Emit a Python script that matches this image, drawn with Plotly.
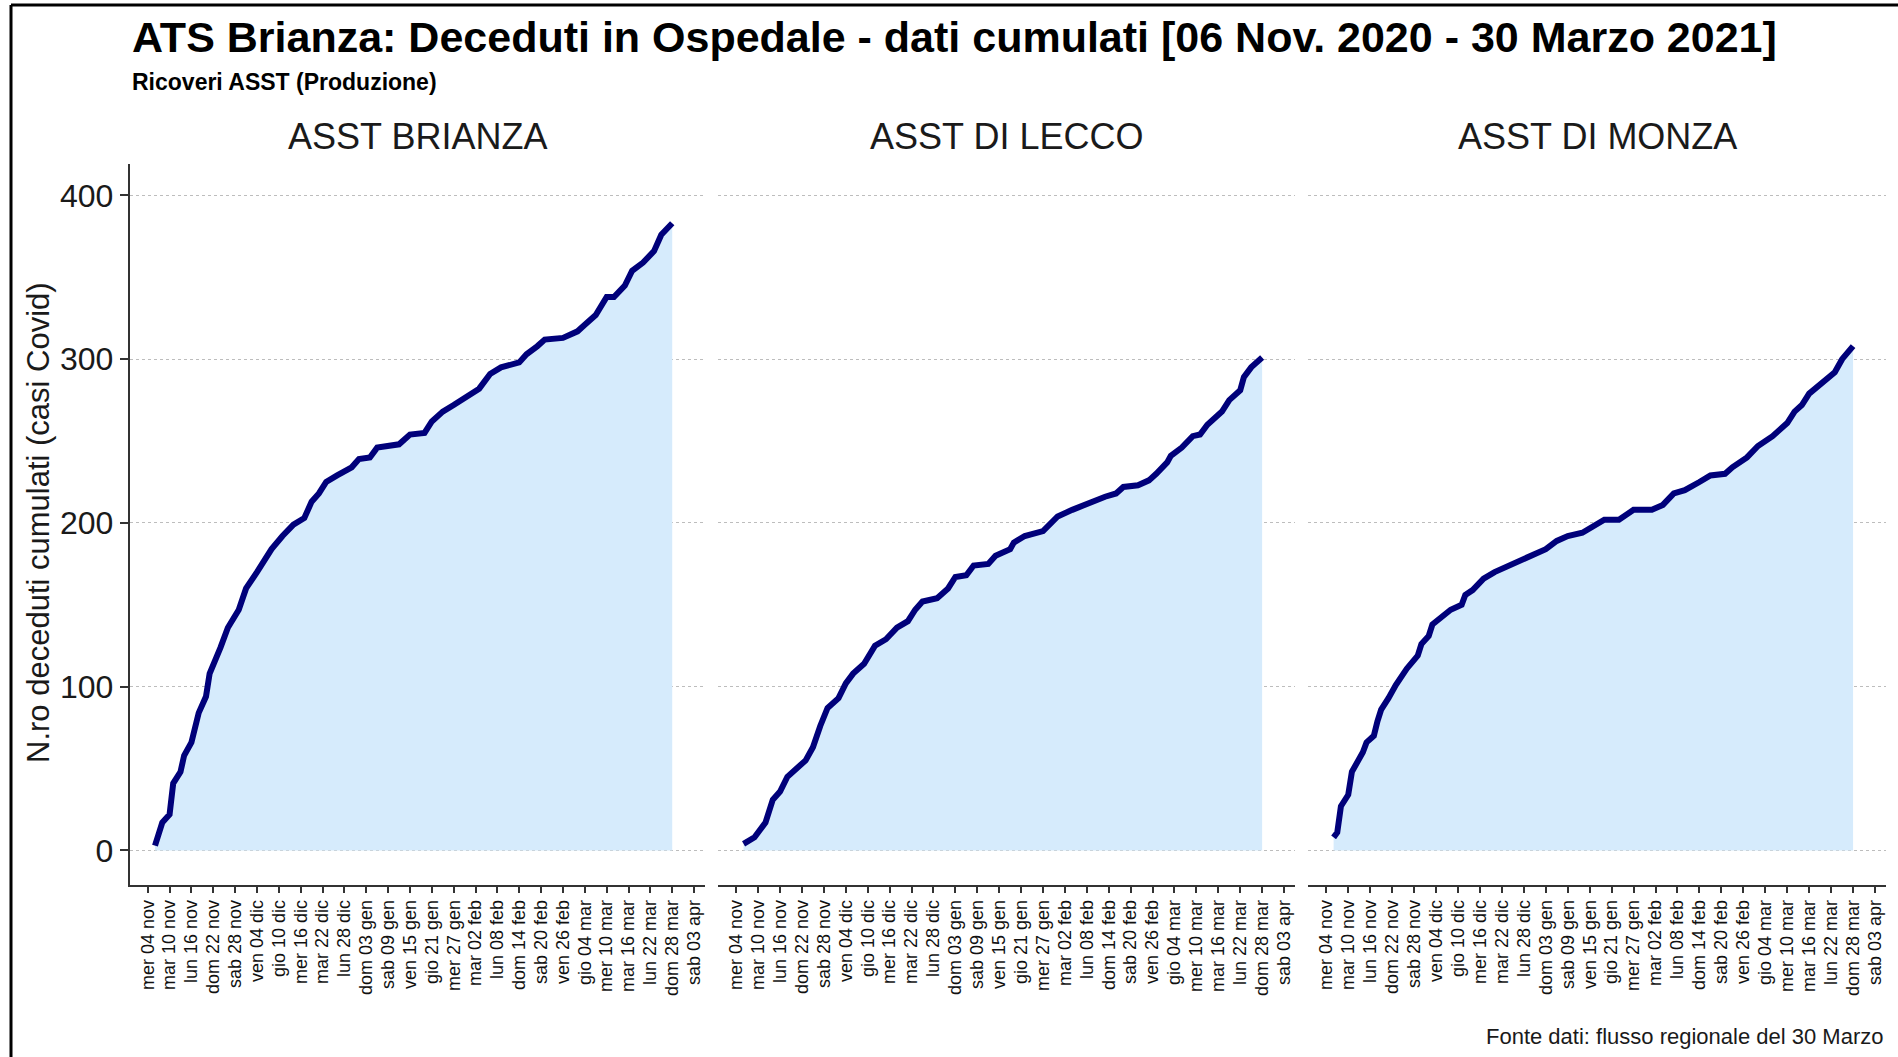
import pandas as pd
import plotly.graph_objects as go

# data: day offsets from 06 Nov 2020 and cumulative deaths
START = pd.Timestamp("2020-11-06")

PANELS = ["ASST BRIANZA", "ASST DI LECCO", "ASST DI MONZA"]

DAYS_BRIANZA = [0, 2, 4, 5, 7, 8, 10, 12, 14, 15, 18, 20, 23, 25, 28, 32, 35, 38, 41, 43,
                45, 47, 50, 54, 56, 59, 61, 67, 70, 74, 76, 79, 82, 86, 89, 92, 95, 100,
                102, 105, 107, 112, 116, 118, 121, 124, 126, 129, 131, 134, 137, 139, 142]
VAL_BRIANZA = [3, 17, 22, 41, 48, 58, 66, 84, 94, 108, 124, 136, 147, 160, 170, 184, 192,
               199, 203, 213, 218, 225, 229, 234, 239, 240, 246, 248, 254, 255, 262, 268,
               272, 278, 282, 291, 295, 298, 303, 308, 312, 313, 317, 321, 327, 338, 338,
               345, 354, 359, 366, 376, 383]

DAYS_LECCO = [0, 3, 6, 7, 8, 10, 12, 17, 19, 21, 23, 26, 28, 30, 33, 36, 39, 42, 45, 47,
              49, 53, 56, 58, 61, 63, 67, 69, 73, 74, 77, 82, 84, 86, 90, 93, 95, 99, 102,
              104, 108, 111, 113, 116, 117, 120, 123, 125, 127, 131, 133, 136, 137, 139, 142]
VAL_LECCO = [4, 8, 17, 24, 31, 36, 45, 55, 63, 76, 87, 93, 102, 108, 114, 125, 129, 136,
             140, 147, 152, 154, 160, 167, 168, 174, 175, 180, 184, 188, 192, 195, 199, 204,
             208, 211, 213, 216, 218, 222, 223, 226, 230, 237, 241, 246, 253, 254, 260, 268,
             275, 281, 289, 295, 301]

DAYS_MONZA = [0, 1, 2, 3, 4, 5, 7, 8, 9, 11, 12, 13, 15, 17, 20, 23, 24, 26, 27, 32, 35,
              36, 38, 41, 44, 48, 52, 55, 58, 61, 64, 68, 71, 74, 78, 80, 82, 87, 90, 93,
              96, 100, 103, 107, 109, 113, 116, 120, 124, 126, 128, 130, 133, 137, 139, 142]
VAL_MONZA = [8, 11, 27, 31, 34, 48, 55, 60, 66, 70, 79, 86, 93, 101, 111, 119, 126, 131,
             138, 147, 150, 156, 159, 166, 170, 174, 178, 181, 184, 189, 192, 194, 198, 202,
             202, 205, 208, 208, 211, 218, 220, 225, 229, 230, 234, 240, 247, 253, 261, 268,
             272, 279, 285, 292, 300, 308]

TICK_DATES = ["2020-11-04", "2020-11-10", "2020-11-16", "2020-11-22", "2020-11-28",
              "2020-12-04", "2020-12-10", "2020-12-16", "2020-12-22", "2020-12-28",
              "2021-01-03", "2021-01-09", "2021-01-15", "2021-01-21", "2021-01-27",
              "2021-02-02", "2021-02-08", "2021-02-14", "2021-02-20", "2021-02-26",
              "2021-03-04", "2021-03-10", "2021-03-16", "2021-03-22", "2021-03-28",
              "2021-04-03"]
TICK_LABELS = ["mer 04 nov", "mar 10 nov", "lun 16 nov", "dom 22 nov", "sab 28 nov",
               "ven 04 dic", "gio 10 dic", "mer 16 dic", "mar 22 dic", "lun 28 dic",
               "dom 03 gen", "sab 09 gen", "ven 15 gen", "gio 21 gen", "mer 27 gen",
               "mar 02 feb", "lun 08 feb", "dom 14 feb", "sab 20 feb", "ven 26 feb",
               "gio 04 mar", "mer 10 mar", "mar 16 mar", "lun 22 mar", "dom 28 mar",
               "sab 03 apr"]
Y_TICKS = [0, 100, 200, 300, 400]

SERIES = [(DAYS_BRIANZA, VAL_BRIANZA), (DAYS_LECCO, VAL_LECCO), (DAYS_MONZA, VAL_MONZA)]

W, H = 1898, 1057
FONT = "Liberation Sans, Arial, sans-serif"
INK = "#1a1a1a"


def px(x):
    return x / W


def py(y):
    return 1 - y / H


panel_px = [(129.5, 705), (718, 1295), (1308, 1886)]
y_dom = [py(885), py(163.5)]

fig = go.Figure()
layout = {}

for i, ((days, vals), (x0, x1)) in enumerate(zip(SERIES, panel_px)):
    n = "" if i == 0 else str(i + 1)
    dates = [START + pd.Timedelta(days=d) for d in days]
    fig.add_trace(
        go.Scatter(
            x=dates,
            y=vals,
            mode="lines",
            fill="tozeroy",
            fillcolor="#D6EBFC",
            line=dict(color="#00007A", width=6),
            xaxis="x" + n,
            yaxis="y" + n,
            showlegend=False,
            hoverinfo="skip",
        )
    )
    layout["xaxis" + n] = dict(
        domain=[px(x0), px(x1)],
        anchor="y" + n,
        type="date",
        range=["2020-10-30", "2021-04-06"],
        tickvals=TICK_DATES,
        ticktext=TICK_LABELS,
        tickangle=-90,
        tickfont=dict(family=FONT, size=18, color="#111111"),
        ticks="outside",
        ticklen=6,
        tickwidth=1.5,
        tickcolor="#333333",
        showline=True,
        linecolor="#333333",
        linewidth=1.5,
        showgrid=False,
        zeroline=False,
        fixedrange=True,
    )
    layout["yaxis" + n] = dict(
        domain=y_dom,
        anchor="x" + n,
        range=[-21.1, 419.5],
        tickvals=Y_TICKS,
        showticklabels=(i == 0),
        tickfont=dict(family=FONT, size=32, color=INK),
        ticks="outside" if i == 0 else "",
        ticklen=8,
        tickwidth=1.5,
        tickcolor="#333333",
        showline=(i == 0),
        linecolor="#333333",
        linewidth=1.5,
        showgrid=True,
        gridcolor="#BDBDBD",
        griddash="dot",
        gridwidth=1,
        zeroline=False,
        fixedrange=True,
    )

annotations = [
    dict(
        text="<b>ATS Brianza: Deceduti in Ospedale - dati cumulati [06 Nov. 2020 - 30 Marzo 2021]</b>",
        x=px(130), y=py(37), xanchor="left", yanchor="middle",
        font=dict(family=FONT, size=43, color="#000000"),
    ),
    dict(
        text="<b>Ricoveri ASST (Produzione)</b>",
        x=px(130), y=py(82), xanchor="left", yanchor="middle",
        font=dict(family=FONT, size=23, color="#000000"),
    ),
    dict(
        text="N.ro deceduti cumulati (casi Covid)",
        x=px(39), y=py(523), xanchor="center", yanchor="middle", textangle=-90,
        font=dict(family=FONT, size=31, color=INK),
    ),
    dict(
        text="Fonte dati: flusso regionale del 30 Marzo",
        x=px(1885), y=py(1036), xanchor="right", yanchor="middle",
        font=dict(family=FONT, size=22, color=INK),
    ),
]
for name, (x0, x1) in zip(PANELS, panel_px):
    annotations.append(
        dict(
            text=name,
            x=px((x0 + x1) / 2), y=py(137), xanchor="center", yanchor="middle",
            font=dict(family=FONT, size=36, color=INK),
        )
    )
for a in annotations:
    a.update(xref="paper", yref="paper", showarrow=False)

# black frame of the original image (top and left edges)
shapes = [
    dict(type="line", xref="paper", yref="paper", x0=px(11), x1=1, y0=py(5), y1=py(5),
         line=dict(color="#000000", width=3)),
    dict(type="line", xref="paper", yref="paper", x0=px(11), x1=px(11), y0=py(5), y1=0,
         line=dict(color="#000000", width=3)),
]

fig.update_layout(
    **layout,
    width=W,
    height=H,
    margin=dict(l=0, r=0, t=0, b=0),
    paper_bgcolor="white",
    plot_bgcolor="white",
    annotations=annotations,
    shapes=shapes,
    font=dict(family=FONT),
)

fig.write_html(
    "out.html",
    config={"displayModeBar": False},
    post_script="document.body.style.margin='0';document.body.style.overflow='hidden';",
)
